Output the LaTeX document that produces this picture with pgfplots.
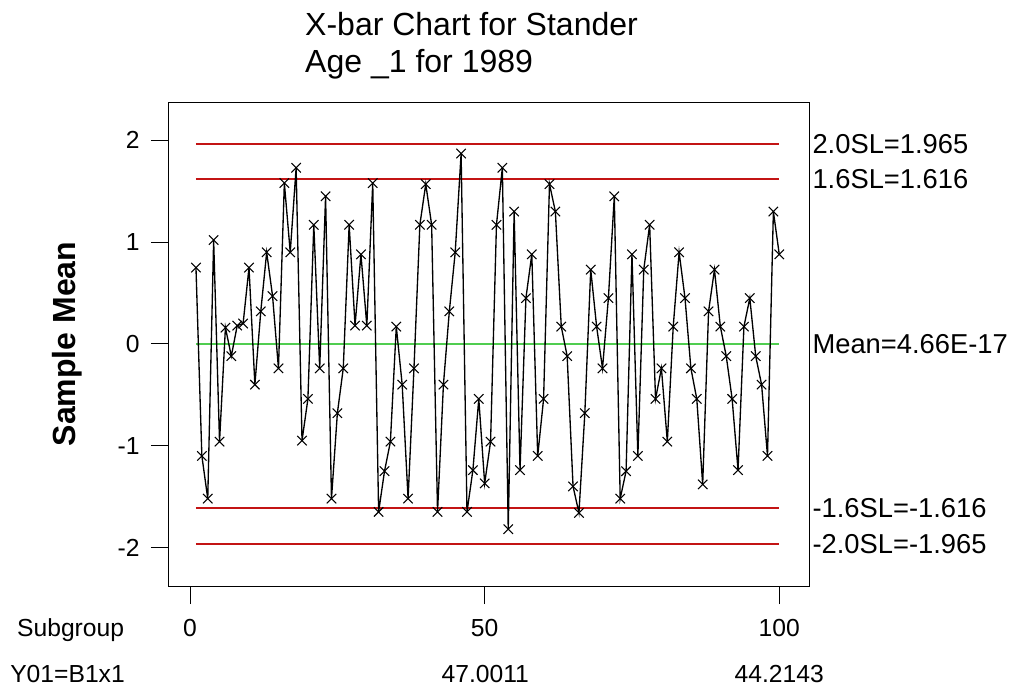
\documentclass[border=0pt]{standalone}
\usepackage{pgfplots}
\pgfplotsset{compat=1.18}
\usepackage{fontspec}
\setmainfont{Liberation Sans}
\definecolor{ctrlred}{RGB}{195,20,20}
\definecolor{ctrlgreen}{RGB}{80,205,80}
\pgfplotstableread{
x y
1 0.75
2 -1.10
3 -1.52
4 1.02
5 -0.96
6 0.16
7 -0.12
8 0.18
9 0.20
10 0.75
11 -0.40
12 0.32
13 0.90
14 0.47
15 -0.24
16 1.58
17 0.90
18 1.73
19 -0.95
20 -0.54
21 1.17
22 -0.24
23 1.45
24 -1.52
25 -0.68
26 -0.24
27 1.17
28 0.18
29 0.88
30 0.18
31 1.58
32 -1.65
33 -1.25
34 -0.96
35 0.17
36 -0.40
37 -1.52
38 -0.24
39 1.17
40 1.57
41 1.17
42 -1.65
43 -0.40
44 0.32
45 0.90
46 1.87
47 -1.65
48 -1.24
49 -0.54
50 -1.37
51 -0.96
52 1.17
53 1.73
54 -1.82
55 1.30
56 -1.24
57 0.45
58 0.88
59 -1.10
60 -0.54
61 1.57
62 1.30
63 0.17
64 -0.12
65 -1.40
66 -1.66
67 -0.68
68 0.73
69 0.17
70 -0.24
71 0.45
72 1.45
73 -1.52
74 -1.25
75 0.88
76 -1.10
77 0.73
78 1.17
79 -0.54
80 -0.24
81 -0.96
82 0.17
83 0.90
84 0.45
85 -0.24
86 -0.54
87 -1.38
88 0.32
89 0.73
90 0.17
91 -0.12
92 -0.54
93 -1.24
94 0.17
95 0.45
96 -0.12
97 -0.40
98 -1.10
99 1.30
100 0.88
}\means
\begin{document}
\begin{tikzpicture}
\path[use as bounding box] (-126.2pt,-81.2pt) rectangle (636.5pt,440.0pt);
\begin{axis}[
  at={(0pt,0pt)}, anchor=south west,
  width=480.75pt, height=363pt, scale only axis,
  xmin=-3.7, xmax=105.1, ymin=-2.385, ymax=2.37,
  xtick={0,50,100}, ytick={-2,-1,0,1,2},
  yticklabels={-2,-1,0,1,2},
  xtick pos=bottom, ytick pos=left,
  tick align=outside, major tick length=13pt,
  tick style={black, line width=0.8pt},
  axis line style={black, line width=1pt},
  ticklabel style={font=\fontsize{18.5}{20}\selectfont},
  xticklabel style={yshift=-8pt},
  yticklabel style={xshift=-5pt},
  /pgf/number format/assume math mode=true,
  clip=false,
]
\addplot[ctrlred, line width=1.4pt] coordinates {(1,1.965) (100,1.965)};
\addplot[ctrlred, line width=1.4pt] coordinates {(1,1.616) (100,1.616)};
\addplot[ctrlgreen, line width=1.2pt] coordinates {(1,0) (100,0)};
\addplot[ctrlred, line width=1.4pt] coordinates {(1,-1.616) (100,-1.616)};
\addplot[ctrlred, line width=1.4pt] coordinates {(1,-1.965) (100,-1.965)};
\addplot[black, line width=1pt, mark=x, mark size=5pt, mark options={line width=0.8pt}] table[x=x, y=y] {\means};
\begin{scope}[every node/.style={font=\fontsize{20.5}{22}\selectfont, inner sep=0pt}]
\node[anchor=west] at (axis cs:105.6,1.965) {2.0SL=1.965};
\node[anchor=west] at (axis cs:105.6,1.616) {1.6SL=1.616};
\node[anchor=west] at (axis cs:105.6,0) {Mean=4.66E-17};
\node[anchor=west] at (axis cs:105.6,-1.616) {-1.6SL=-1.616};
\node[anchor=west] at (axis cs:105.6,-1.965) {-2.0SL=-1.965};
\end{scope}
\begin{scope}[every node/.style={font=\fontsize{18.5}{20}\selectfont, inner sep=0pt}]
\node[anchor=base west] at (axis cs:-29.4,-2.877) {Subgroup};
\node[anchor=base west] at (axis cs:-30.56,-3.329) {Y01=B1x1};
\node[anchor=base] at (axis cs:50.1,-3.329) {47.0011};
\node[anchor=base] at (axis cs:100,-3.329) {44.2143};
\end{scope}
\node[anchor=base west, inner sep=0pt, font=\fontsize{24}{28}\selectfont] at (axis cs:19.5,3.027) {X-bar Chart for Stander};
\node[anchor=base west, inner sep=0pt, font=\fontsize{24}{28}\selectfont] at (axis cs:19.5,2.663) {Age \_1 for 1989};
\node[rotate=90, anchor=center, inner sep=0pt, font=\fontsize{24}{28}\selectfont\bfseries] at (axis cs:-20.9,0) {Sample Mean};
\end{axis}
\end{tikzpicture}
\end{document}
